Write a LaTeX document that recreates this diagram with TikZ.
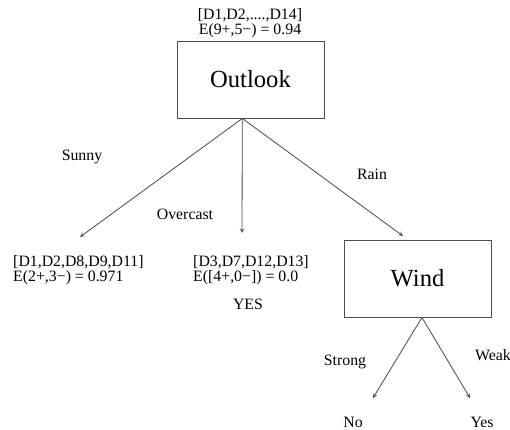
\documentclass[tikz,border=0pt]{standalone}
\usepackage{fontspec}
\setmainfont{Liberation Serif}
\usepackage{tikz}

\begin{document}
\begin{tikzpicture}[
      x=0.03cm, y=-0.03cm,
      attr/.style={draw=black!70, line width=0.8pt,
                   minimum width=4.41cm, minimum height=2.31cm,
                   inner sep=0pt, font=\fontsize{21}{24}\selectfont,
                   anchor=center},
      lbl/.style={font=\fontsize{13.5}{13}\selectfont, inner sep=0pt},
      edge/.style={->, >=stealth, draw=black!70, line width=0.7pt},
    ]
    \useasboundingbox (0,0) rectangle (510,430);
    %% attribute boxes
    \node[attr] (outlook) at (250.5,79.5) {Outlook};
    \node[attr] (wind) at (417.5,278.5) {Wind};
    %% root info
    \node[lbl, align=center] (rootinfo) at (250,23)
      {[D1,D2,....,D14]\\E(9+,5−) = 0.94};
    %% leaves
    \node[lbl, align=left, anchor=west] (sunnyleaf) at (13,270)
      {[D1,D2,D8,D9,D11]\\E(2+,3−) = 0.971};
    \node[lbl, align=left, anchor=west] (overleaf) at (193,270)
      {[D3,D7,D12,D13]\\E([4+,0−]) = 0.0};
    \node[lbl] (yesover) at (248,304) {YES};
    \node[lbl] (no) at (353,422) {No};
    \node[lbl] (yes) at (482,422) {Yes};
    %% branch labels
    \node[lbl] (sunny) at (82,157) {Sunny};
    \node[lbl] (overcast) at (185,214) {Overcast};
    \node[lbl] (rain) at (372,174) {Rain};
    \node[lbl] (strong) at (345,362) {Strong};
    \node[lbl, anchor=west] (weak) at (475,355) {Weak};
    %% arrow ends
    \coordinate (split) at ([xshift=-7pt]outlook.south);
    \coordinate (windsplit) at ([xshift=3.8pt]wind.south);
    \coordinate (sunnyend) at (80,237);
    \coordinate (overend) at (242,233);
    \coordinate (rainend) at (403,236);
    \coordinate (noend) at (373,398);
    \coordinate (yesend) at (470,398);
    %% branches
    \draw[edge] (split) -- (sunnyend);
    \draw[edge] (split) -- (overend);
    \draw[edge] (split) -- (rainend);
    \draw[edge] (windsplit) -- (noend);
    \draw[edge] (windsplit) -- (yesend);
\end{tikzpicture}
\end{document}
